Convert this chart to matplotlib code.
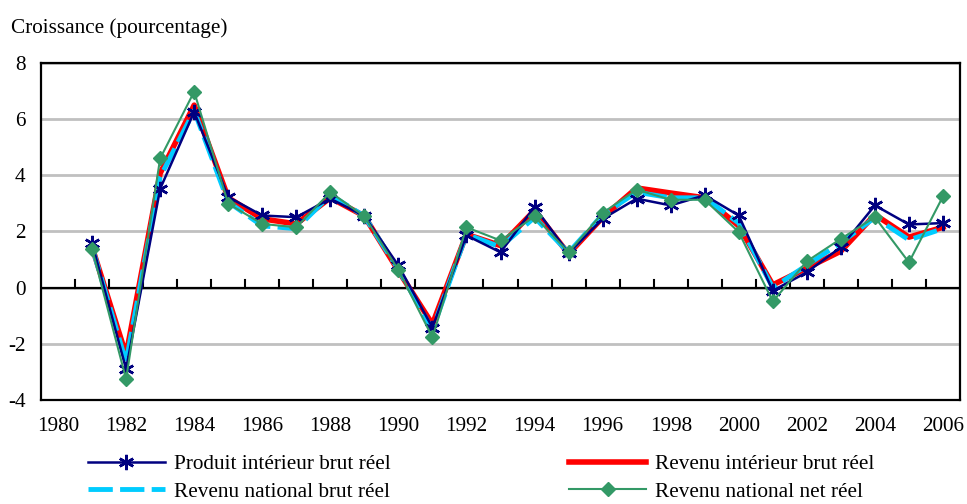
import numpy as np
import matplotlib.pyplot as plt
from matplotlib import rcParams

rcParams['font.family'] = ['Liberation Serif', 'DejaVu Serif']
rcParams['font.size'] = 15.3
rcParams['axes.unicode_minus'] = False

# Taux de croissance annuels (%)
annees = list(range(1980, 2007))
pib_reel = [np.nan, 1.58, -2.90, 3.52, 6.26, 3.23, 2.57, 2.51, 3.17, 2.55,
            0.79, -1.42, 1.86, 1.26, 2.87, 1.23, 2.45, 3.17, 2.93, 3.29,
            2.57, -0.11, 0.55, 1.44, 2.93, 2.25, 2.30]
rib_reel = [np.nan, 1.45, -2.40, 4.07, 6.50, 3.20, 2.45, 2.27, 3.20, 2.55,
            0.60, -1.30, 1.90, 1.50, 2.75, 1.20, 2.50, 3.55, 3.37, 3.20,
            2.20, 0.10, 0.70, 1.30, 2.60, 1.80, 2.15]
rnb_reel = [np.nan, 1.45, -2.65, 3.94, 6.30, 3.05, 2.20, 2.10, 3.30, 2.55,
            0.65, -1.50, 1.90, 1.45, 2.50, 1.25, 2.60, 3.40, 3.20, 3.20,
            2.30, 0.00, 0.80, 1.60, 2.50, 1.70, 2.10]
rnn_reel = [np.nan, 1.38, -3.26, 4.60, 6.98, 2.99, 2.27, 2.15, 3.40, 2.54,
            0.63, -1.77, 2.15, 1.68, 2.54, 1.26, 2.66, 3.49, 3.13, 3.13,
            1.98, -0.49, 0.94, 1.74, 2.51, 0.90, 3.25]

x = np.arange(len(annees))

fig = plt.figure(figsize=(9.67, 5.04), dpi=100)
ax = fig.add_axes([41 / 967, 1 - 400 / 504, 919 / 967, 337 / 504])

l_rib, = ax.plot(x, rib_reel, color='#FF0000', linewidth=4.0, zorder=3)
l_rnb, = ax.plot(x, rnb_reel, color='#00CCFF', linewidth=3.5,
                 dashes=(5, 1.5), zorder=4)
l_pib, = ax.plot(x, pib_reel, color='#000080', linewidth=1.8,
                 marker=(6, 2, 0), markersize=11, markeredgewidth=1.8,
                 zorder=5)
l_rnn, = ax.plot(x, rnn_reel, color='#339966', linewidth=1.5, marker='D',
                 markersize=7.5, zorder=6)

ax.set_xlim(-0.5, len(annees) - 0.5)
ax.set_ylim(-4, 8)
ax.set_yticks(np.arange(-4, 9, 2))
ax.yaxis.grid(True, color='#C0C0C0', linewidth=2)
ax.set_axisbelow(True)
for s in ax.spines.values():
    s.set_linewidth(1.6)
ax.tick_params(axis='y', length=0, pad=11)

# Axe des catégories : étiquettes une année sur deux, graduations sur zéro
ax.set_xticks(x[::2])
ax.set_xticklabels([str(a) for a in annees[::2]])
ax.tick_params(axis='x', length=0, pad=12)
ax.axhline(0, color='black', linewidth=1.6, zorder=2)
for b in np.arange(0.5, len(annees) - 1, 1):
    ax.plot([b, b], [0, 0.27], color='black', linewidth=1.5, zorder=2)

fig.text(11 / 967, 1 - 33 / 504, 'Croissance (pourcentage)', va='baseline',
         ha='left')

# Légende sur deux colonnes (ordre par colonne)
handles = [l_pib, l_rnb, l_rib, l_rnn]
labels = ['Produit intérieur brut réel', 'Revenu national brut réel',
          'Revenu intérieur brut réel', 'Revenu national net réel']
fig.legend(handles, labels, ncol=2, loc='center left',
           bbox_to_anchor=(88 / 967, 1 - 478 / 504), frameon=False,
           handlelength=3.6, handletextpad=0.45, columnspacing=8.4,
           borderaxespad=0, borderpad=0, labelspacing=0.36)

plt.savefig('out.png', dpi=100)
